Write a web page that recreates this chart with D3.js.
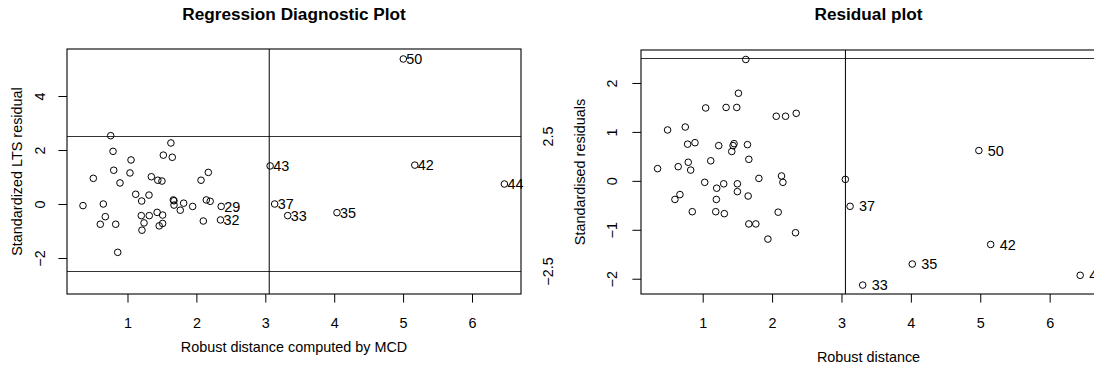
<!DOCTYPE html>
<html>
<head>
<meta charset="utf-8">
<script src="https://cdn.jsdelivr.net/npm/d3@7"></script>
<style>
  body { margin: 0; background: #fff; }
  svg text { font-family: "Liberation Sans", Arial, sans-serif; fill: #000; }
</style>
</head>
<body>
<svg id="chart" width="1094" height="369"></svg>
<script>
// ---------- data: LTS diagnostic plot (left) ----------
var ltsDist = [0.354, 0.504, 0.649, 0.605, 0.678, 0.756, 0.790, 0.800, 0.829, 0.858,
               0.891, 1.036, 1.051, 1.119, 1.206, 1.200, 1.210, 1.240, 1.312, 1.316,
               1.346, 1.430, 1.440, 1.500, 1.460, 1.510, 1.510, 1.520, 1.630, 1.650,
               1.665, 1.675, 1.675, 1.766, 1.815, 1.946, 2.067, 2.100, 2.144, 2.173,
               2.200, 2.360, 2.350, 3.070, 3.136, 3.325, 4.040, 5.170, 6.470, 5.003];
var ltsResid = [-0.06, 0.95, 0.00, -0.75, -0.47, 2.53, 1.95, 1.25, -0.75, -1.79,
                0.78, 1.15, 1.63, 0.36, 0.11, -0.43, -0.97, -0.70, 0.33, -0.43,
                1.01, -0.31, 0.88, 0.85, -0.81, -0.72, -0.41, 1.81, 2.26, 1.73,
                0.15, 0.12, -0.04, -0.23, 0.03, -0.09, 0.88, -0.63, 0.15, 1.17,
                0.10, -0.09, -0.59, 1.41, 0.00, -0.43, -0.32, 1.44, 0.74, 5.37];
var ltsLabels = ["", "", "", "", "", "", "", "", "", "",
                 "", "", "", "", "", "", "", "", "", "",
                 "", "", "", "", "", "", "", "", "", "",
                 "", "", "", "", "", "", "", "", "", "",
                 "", "29", "32", "43", "37", "33", "35", "42", "44", "50"];

// ---------- data: residual plot (right) ----------
var resDist = [0.350, 0.494, 0.600, 0.647, 0.672, 0.749, 0.783, 0.792, 0.827, 0.850,
               0.889, 1.029, 1.043, 1.116, 1.188, 1.197, 1.202, 1.231, 1.303, 1.312,
               1.337, 1.419, 1.438, 1.452, 1.491, 1.500, 1.500, 1.515, 1.621, 1.645,
               1.655, 1.665, 1.665, 1.766, 1.810, 1.940, 2.060, 2.088, 2.136, 2.156,
               2.194, 2.338, 2.348, 3.056, 3.124, 3.306, 4.020, 5.150, 4.980, 6.440];
var resStd = [0.25, 1.04, -0.38, 0.29, -0.28, 1.10, 0.75, 0.38, 0.22, -0.63,
              0.78, -0.03, 1.49, 0.41, -0.63, -0.38, -0.15, 0.72, -0.06, -0.67,
              1.50, 0.60, 0.72, 0.76, 1.50, -0.06, -0.22, 1.79, 2.48, 0.74,
              -0.31, 0.44, -0.88, -0.88, 0.05, -1.19, 1.32, -0.64, 0.10, -0.03,
              1.32, -1.06, 1.38, 0.03, -0.52, -2.13, -1.70, -1.30, 0.62, -1.93];
var resLabels = ["", "", "", "", "", "", "", "", "", "",
                 "", "", "", "", "", "", "", "", "", "",
                 "", "", "", "", "", "", "", "", "", "",
                 "", "", "", "", "", "", "", "", "", "",
                 "", "", "", "", "37", "33", "35", "42", "50", "44"];

var xTicks = [1, 2, 3, 4, 5, 6];
var ltsYTicks = [-2, 0, 2, 4];
var resYTicks = [-2, -1, 0, 1, 2];
var cutoffX = 3.057;
var cutoffY = 2.5;

var svg = d3.select("#chart");
var TICK = 8.6;
var intFmt = d3.format("d");

function drawPanel(p) {
    var g = svg.append("g");
    var x = d3.scaleLinear().domain(p.xDomain).range([p.left, p.right]);
    var y = d3.scaleLinear().domain(p.yDomain).range([p.bottom, p.top]);

    var xAxis = d3.axisBottom(x).tickValues(xTicks).tickFormat(intFmt)
        .tickSize(TICK).tickSizeOuter(0);
    var xg = g.append("g").attr("transform", "translate(0," + p.bottom + ")").call(xAxis);
    xg.select(".domain").remove();
    xg.selectAll("line").attr("stroke", "#000");
    xg.selectAll("text").attr("y", 29).attr("dy", "0.35em")
        .style("font-size", "14.4px").attr("fill", "#000");

    var yAxis = d3.axisLeft(y).tickValues(p.yTicks).tickFormat(intFmt)
        .tickSize(TICK).tickSizeOuter(0);
    var yg = g.append("g").attr("transform", "translate(" + p.left + ",0)").call(yAxis);
    yg.select(".domain").remove();
    yg.selectAll("line").attr("stroke", "#000");
    yg.selectAll("text")
        .attr("x", 0).attr("dy", 0)
        .attr("text-anchor", "middle")
        .attr("transform", "translate(" + (-p.yLabOff) + ",0) rotate(-90)")
        .style("font-size", "14.4px").attr("fill", "#000");

    // reference lines
    p.hLines.forEach(function(v) {
        g.append("line").attr("x1", p.left).attr("x2", p.right)
            .attr("y1", y(v)).attr("y2", y(v))
            .attr("stroke", "#333").attr("stroke-width", 1.1);
    });
    g.append("line").attr("x1", x(cutoffX)).attr("x2", x(cutoffX))
        .attr("y1", p.top).attr("y2", p.bottom).attr("stroke", "#000");

    // box
    g.append("rect").attr("x", p.left).attr("y", p.top)
        .attr("width", p.right - p.left).attr("height", p.bottom - p.top)
        .attr("fill", "none").attr("stroke", "#000").attr("stroke-width", 1.1);

    // points
    var pts = p.xs.map(function(v, i) { return { x: v, y: p.ys[i], lab: p.labels[i] }; });
    g.selectAll("circle.pt").data(pts).enter().append("circle")
        .attr("class", "pt")
        .attr("cx", function(d) { return x(d.x); })
        .attr("cy", function(d) { return y(d.y); })
        .attr("r", 3.3)
        .attr("fill", "none").attr("stroke", "#000").attr("stroke-width", 1);

    g.selectAll("text.lab").data(pts.filter(function(d) { return d.lab !== ""; })).enter()
        .append("text").attr("class", "lab")
        .attr("x", function(d) { return x(d.x) + p.labOff; })
        .attr("y", function(d) { return y(d.y); })
        .attr("dy", "0.36em")
        .style("font-size", "14.4px")
        .text(function(d) { return d.lab; });

    // titles
    svg.append("text").attr("x", (p.left + p.right) / 2).attr("y", 14).attr("dy", "0.36em")
        .attr("text-anchor", "middle").style("font-size", "17.2px").style("font-weight", "bold")
        .text(p.title);
    svg.append("text").attr("x", (p.left + p.right) / 2).attr("y", p.xTitleY).attr("dy", "0.36em")
        .attr("text-anchor", "middle").style("font-size", "14.4px")
        .text(p.xTitle);
    svg.append("text")
        .attr("transform", "translate(" + p.yTitleX + "," + ((p.top + p.bottom) / 2) + ") rotate(-90)")
        .attr("dy", "0.36em")
        .attr("text-anchor", "middle").style("font-size", "14.4px")
        .text(p.yTitle);
    return { x: x, y: y };
}

var left = drawPanel({
    left: 67, right: 521, top: 49, bottom: 294,
    xDomain: [0.122, 6.711], yDomain: [-3.333, 5.74],
    yTicks: ltsYTicks, yLabOff: 22,
    hLines: [cutoffY, -cutoffY],
    xs: ltsDist, ys: ltsResid, labels: ltsLabels, labOff: 3,
    title: "Regression Diagnostic Plot",
    xTitle: "Robust distance computed by MCD", xTitleY: 347,
    yTitle: "Standardized LTS residual", yTitleX: 17
});

// side labels for the cutoff lines of the left panel
[cutoffY, -cutoffY].forEach(function(v) {
    svg.append("text")
        .attr("transform", "translate(553," + left.y(v) + ") rotate(-90)")
        .attr("text-anchor", "middle").style("font-size", "14.4px")
        .text(d3.format(".1f")(v));
});

drawPanel({
    left: 641, right: 1096, top: 50, bottom: 294,
    xDomain: [0.111, 6.668], yDomain: [-2.312, 2.674],
    yTicks: resYTicks, yLabOff: 24,
    hLines: [cutoffY],
    xs: resDist, ys: resStd, labels: resLabels, labOff: 9,
    title: "Residual plot",
    xTitle: "Robust distance", xTitleY: 357,
    yTitle: "Standardised residuals", yTitleX: 580
});
</script>
</body>
</html>
